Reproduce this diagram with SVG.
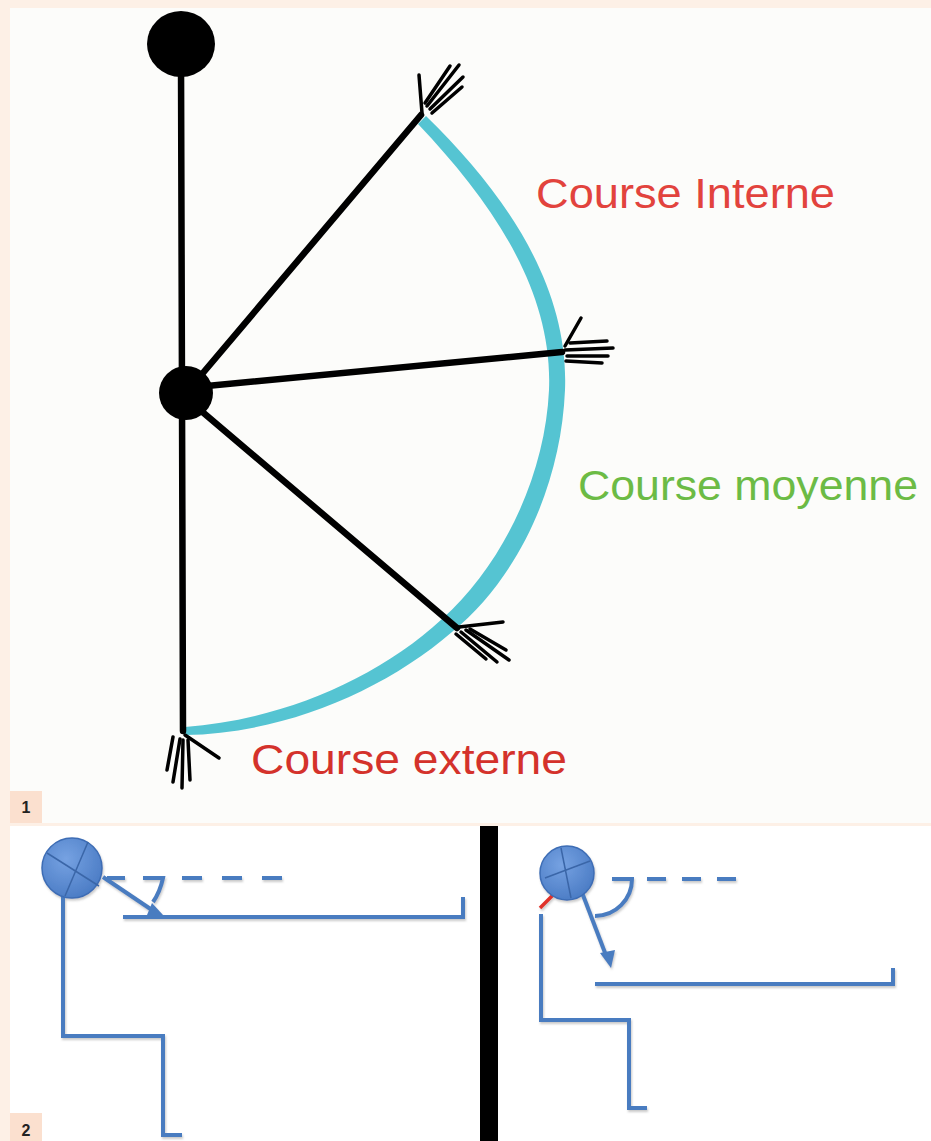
<svg xmlns="http://www.w3.org/2000/svg" width="931" height="1141" viewBox="0 0 931 1141">
<defs>
<style>
.blk{stroke:#000;fill:none;stroke-linecap:round}
.arm{stroke-width:6.5}
.tine{stroke-width:3.5}
.lbl{font-family:"Liberation Sans",Arial,sans-serif;font-size:42px}
.num{font-family:"Liberation Sans",Arial,sans-serif;font-weight:bold;font-size:16px;fill:#222}
.bl{stroke:#4a7cc0;stroke-width:4;fill:none}
.thin{stroke:#3a66a8;stroke-width:1.5;fill:none}
</style>
<radialGradient id="ball" cx="0.4" cy="0.35" r="0.7">
<stop offset="0" stop-color="#76a2e2"/>
<stop offset="1" stop-color="#4a7bc4"/>
</radialGradient>
<filter id="sh" x="-10%" y="-10%" width="130%" height="130%">
<feDropShadow dx="1" dy="2" stdDeviation="1.2" flood-color="#666" flood-opacity="0.35"/>
</filter>
</defs>
<rect width="931" height="1141" fill="#fdf0e6"/>
<rect x="10" y="8" width="921" height="815" fill="#fcfcfa"/>
<rect x="10" y="826" width="921" height="315" fill="#ffffff"/>
<g id="label1"><rect x="10" y="791" width="32" height="32" fill="#fbe0cf"/><text class="num" x="26" y="813" text-anchor="middle">1</text></g>
<g id="label2"><rect x="10" y="1113" width="32" height="28" fill="#fbe0cf"/><text class="num" x="26" y="1136" text-anchor="middle">2</text></g>

<g id="arc">
<path d="M426,116 C508,196 569,288 565,390 C561,486 518,578 452,632 C384,691 282,734 185,735 L185,727 C280,720 376,680 442,619 C503,564 545,476 549,390 C553,292 494,204 418,124 Z" fill="#55c4d2"/>
</g>

<g id="connectors">
<line class="blk arm" x1="181" y1="60" x2="183" y2="731"/>
<line class="blk arm" x1="186" y1="393" x2="421" y2="115"/>
<line class="blk arm" x1="186" y1="388" x2="562" y2="352"/>
<line class="blk arm" x1="186" y1="398" x2="457" y2="628"/>
</g>

<g id="head"><ellipse cx="181" cy="44" rx="34" ry="33" fill="#000"/></g>
<g id="joint"><circle cx="186" cy="393" r="27" fill="#000"/></g>

<g id="fork-top" class="blk tine">
<line x1="419" y1="75" x2="422" y2="113"/>
<line x1="425" y1="103" x2="450" y2="66"/>
<line x1="427" y1="106" x2="459" y2="65"/>
<line x1="430" y1="109" x2="463" y2="77"/>
<line x1="432" y1="113" x2="462" y2="87"/>
</g>
<g id="fork-mid" class="blk tine">
<line x1="565" y1="346" x2="581" y2="318"/>
<line x1="570" y1="343" x2="607" y2="341"/>
<line x1="565" y1="350" x2="613" y2="348"/>
<line x1="567" y1="356" x2="608" y2="356"/>
<line x1="566" y1="361" x2="602" y2="363"/>
</g>
<g id="fork-low" class="blk tine">
<line x1="459" y1="627" x2="503" y2="622"/>
<line x1="456" y1="634" x2="486" y2="659"/>
<line x1="461" y1="632" x2="497" y2="662"/>
<line x1="466" y1="630" x2="509" y2="660"/>
<line x1="470" y1="629" x2="506" y2="650"/>
</g>
<g id="fork-bottom" class="blk tine">
<line x1="185" y1="735" x2="219" y2="758"/>
<line x1="173" y1="737" x2="167" y2="770"/>
<line x1="180" y1="739" x2="173" y2="782"/>
<line x1="183" y1="740" x2="182" y2="788"/>
<line x1="188" y1="740" x2="190" y2="780"/>
</g>

<g id="text-interne"><text class="lbl" x="536" y="208" fill="#e2433d" textLength="299" lengthAdjust="spacingAndGlyphs">Course Interne</text></g>
<g id="text-moyenne"><text class="lbl" x="578" y="500" fill="#6cbb45" textLength="340" lengthAdjust="spacingAndGlyphs">Course moyenne</text></g>
<g id="text-externe"><text class="lbl" x="251" y="774" fill="#d4322b" textLength="316" lengthAdjust="spacingAndGlyphs">Course externe</text></g>

<g id="divider"><rect x="480" y="826" width="18" height="315" fill="#000"/></g>

<g id="left-figure" filter="url(#sh)">
<path class="bl" d="M63,897 V1036 H163 V1135 H182"/>
<path class="bl" d="M123,917 H463 V897"/>
<line class="bl" x1="103" y1="877" x2="152" y2="910" stroke-width="3.5"/>
<polygon points="147,915 163,915 152,903" fill="#4a7cc0"/>
<path class="bl" d="M107,878 H125" stroke-width="3.5"/>
<path class="bl" d="M143,878 H163 Q160,892 153,902" stroke-width="3.5"/>
<path class="bl" d="M182,878 H283" stroke-width="3.5" stroke-dasharray="20 20"/>
<circle cx="72" cy="868" r="30" fill="url(#ball)" stroke="#3d6db5" stroke-width="1.5"/>
<line class="thin" x1="47" y1="853" x2="99" y2="886"/>
<line class="thin" x1="65" y1="896" x2="88" y2="842"/>
</g>

<g id="right-figure" filter="url(#sh)">
<path class="bl" d="M541,914 V1020 H629 V1108 H647"/>
<path class="bl" d="M595,984 H893 V968"/>
<line x1="554" y1="894" x2="540" y2="908" stroke="#e0302a" stroke-width="3.5"/>
<line class="bl" x1="578" y1="882" x2="607" y2="958" stroke-width="3.5"/>
<polygon points="600,953 615,950 611,968" fill="#4a7cc0"/>
<path class="bl" d="M612,879 H632 A37,37 0 0 1 595,916" stroke-width="3.5"/>
<path class="bl" d="M647,879 H737" stroke-width="3.5" stroke-dasharray="19 16"/>
<circle cx="567" cy="873" r="27" fill="url(#ball)" stroke="#3d6db5" stroke-width="1.5"/>
<line class="thin" x1="545" y1="878" x2="590" y2="861"/>
<line class="thin" x1="561" y1="848" x2="571" y2="898"/>
</g>
</svg>
